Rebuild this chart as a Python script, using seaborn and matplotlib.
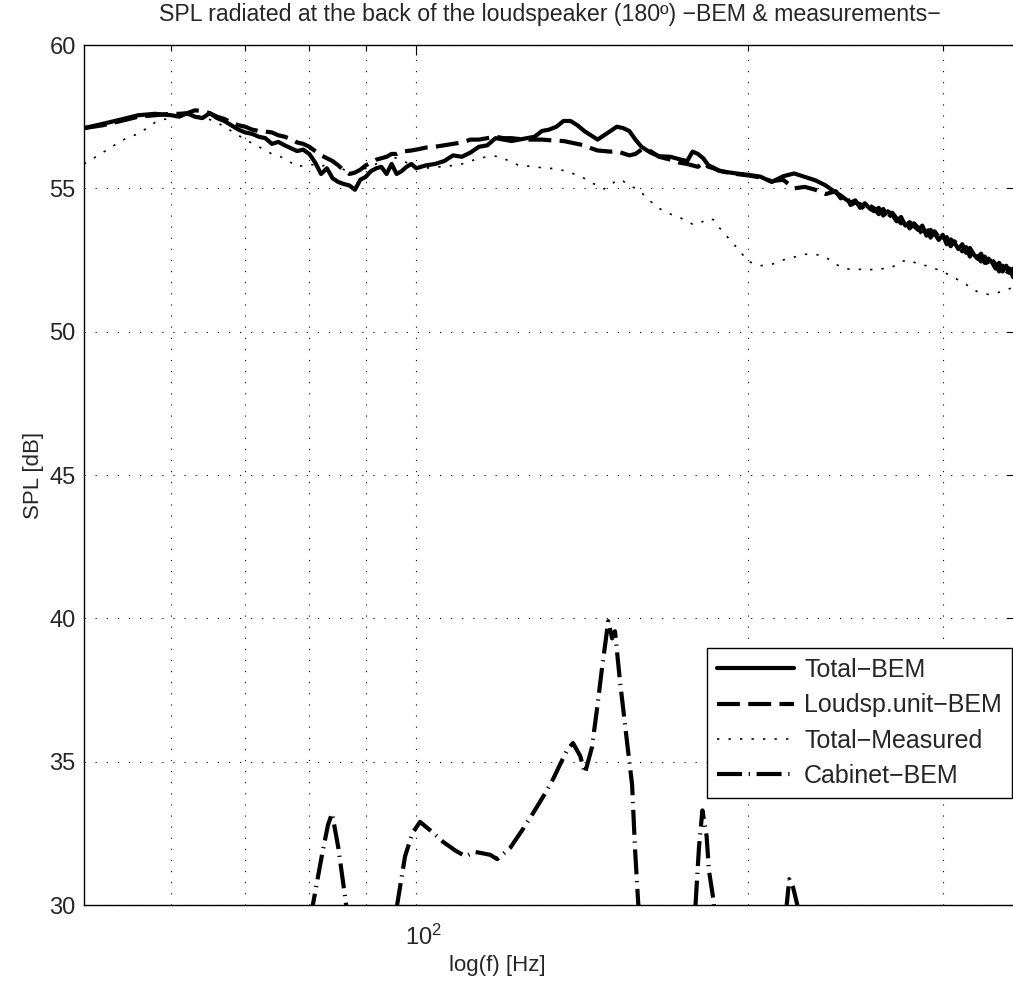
import matplotlib
matplotlib.use("Agg")
import matplotlib.pyplot as plt
import seaborn as sns
from matplotlib.ticker import FixedLocator, FixedFormatter, NullFormatter
from matplotlib.transforms import ScaledTranslation

# =========================================
# Data (f in Hz, SPL in dB)
# =========================================
freq_bem = [
    50, 52, 54, 56, 58, 60, 61, 62, 63, 64,
    65, 66, 67, 68, 69, 70, 71, 72, 73, 74,
    75, 76, 77, 78, 79, 80, 81, 82, 83, 84,
    85, 86, 87, 88, 89, 90, 91, 92, 93, 94,
    95, 96, 97, 98, 99, 100, 102, 104, 106, 108,
    110, 112, 114, 116, 118, 120, 122, 124, 126, 128,
    130, 132, 134, 136, 138, 140, 142, 144, 146, 148,
    150, 152, 154, 156, 158, 160, 163, 166, 170, 173,
    176, 178, 180, 182, 184, 186, 188, 190, 195, 200,
    205, 210, 215, 220, 225, 230, 235, 240, 242.5, 245,
    247.5, 250, 252.5, 255, 257.5, 260, 262.5, 265, 267.5, 270,
    272.5, 275, 277.5, 280, 282.5, 285, 287.5, 290, 292.5, 295,
    297.5, 300, 302.5, 305, 307.5, 310, 312.5, 315, 317.5, 320,
    322.5, 325, 327.5, 330, 332.5, 335, 337.5, 340, 342.5, 345,
    347.5, 350,
]

spl_total_bem = [
    57.1, 57.25, 57.4, 57.55, 57.6, 57.55, 57.5, 57.62, 57.5, 57.45,
    57.62, 57.45, 57.35, 57.2, 57.05, 56.95, 56.9, 56.8, 56.75, 56.55,
    56.62, 56.5, 56.4, 56.3, 56.35, 56.2, 55.9, 55.5, 55.7, 55.35,
    55.22, 55.15, 55.1, 54.95, 55.3, 55.4, 55.6, 55.7, 55.75, 55.5,
    55.85, 55.5, 55.6, 55.75, 55.85, 55.7, 55.8, 55.85, 55.95, 56.15,
    56.1, 56.25, 56.45, 56.5, 56.75, 56.7, 56.65, 56.7, 56.75, 56.8,
    57.0, 57.05, 57.15, 57.35, 57.35, 57.2, 57.0, 56.85, 56.7, 56.85,
    57.0, 57.15, 57.1, 57.0, 56.7, 56.45, 56.25, 56.12, 56.1, 56.02,
    55.95, 56.28, 56.2, 56.05, 55.8, 55.72, 55.62, 55.58, 55.52, 55.47,
    55.41, 55.22, 55.42, 55.52, 55.4, 55.28, 55.1, 54.85, 54.75, 54.62,
    54.5, 54.58, 54.32, 54.48, 54.3, 54.2, 54.32, 54.05, 54.2, 54.08,
    53.85, 54.0, 53.7, 53.82, 53.68, 53.55, 53.7, 53.35, 53.55, 53.42,
    53.2, 53.38, 53.05, 53.22, 53.1, 52.88, 53.05, 52.75, 52.92, 52.7,
    52.55, 52.72, 52.4, 52.55, 52.42, 52.2, 52.4, 52.1, 52.3, 52.05,
    52.2, 51.95,
]

spl_loudsp_bem = [
    57.1, 57.2, 57.35, 57.5, 57.55, 57.6, 57.6, 57.62, 57.72, 57.7,
    57.62, 57.5, 57.42, 57.3, 57.2, 57.15, 57.05, 57.0, 56.98, 56.95,
    56.85, 56.8, 56.72, 56.6, 56.55, 56.45, 56.3, 56.15, 56.05, 55.95,
    55.8, 55.62, 55.5, 55.55, 55.65, 55.8, 55.9, 56.0, 56.05, 56.1,
    56.2, 56.2, 56.28, 56.3, 56.32, 56.35, 56.42, 56.45, 56.5, 56.55,
    56.6, 56.7, 56.7, 56.75, 56.8, 56.75, 56.75, 56.72, 56.7, 56.7,
    56.7, 56.68, 56.66, 56.65, 56.6, 56.55, 56.5, 56.4, 56.32, 56.3,
    56.28, 56.3, 56.22, 56.15, 56.2, 56.35, 56.3, 56.1, 56.0, 55.9,
    55.85, 55.8, 55.75, 55.9, 55.75, 55.7, 55.62, 55.58, 55.5, 55.45,
    55.38, 55.25, 55.3, 55.0, 55.05, 54.95, 54.8, 54.9, 54.65, 54.78,
    54.42, 54.5, 54.45, 54.25, 54.4, 54.3, 54.1, 54.28, 53.95, 54.15,
    53.95, 53.78, 53.9, 53.6, 53.78, 53.62, 53.4, 53.6, 53.28, 53.5,
    53.3, 53.15, 53.3, 52.98, 53.15, 53.0, 52.8, 52.95, 52.62, 52.85,
    52.6, 52.45, 52.62, 52.3, 52.5, 52.35, 52.1, 52.3, 51.98, 52.2,
    51.9, 52.1,
]

freq_meas = [
    50, 51, 52, 53, 54, 55, 56, 57, 58, 59,
    60, 62, 64, 66, 68, 70, 72, 74, 76, 77,
    78, 79, 80, 81, 82, 83, 84, 85, 86, 87,
    88, 89, 90, 92, 94, 96, 98, 100, 102, 104,
    106, 108, 110, 112, 114, 116, 118, 120, 122, 124,
    126, 128, 130, 132, 134, 136, 138, 140, 142, 144,
    146, 148, 150, 152, 154, 156, 158, 160, 163, 166,
    170, 173, 176, 178, 180, 182, 184, 186, 188, 190,
    195, 200, 205, 210, 215, 220, 225, 230, 235, 240,
    245, 250, 255, 260, 265, 270, 275, 280, 285, 290,
    295, 300, 305, 310, 315, 320, 325, 330, 335, 340,
    345, 350,
]

spl_meas = [
    55.85, 56.05, 56.25, 56.45, 56.65, 56.8, 56.9, 57.1, 57.3, 57.4,
    57.45, 57.55, 57.5, 57.3, 57.0, 56.7, 56.45, 56.2, 56.05, 55.9,
    55.75, 55.8, 55.85, 55.8, 55.75, 55.85, 55.9, 55.75, 55.65, 55.6,
    55.55, 55.6, 55.7, 55.85, 56.15, 56.05, 55.9, 55.75, 55.7, 55.75,
    55.75, 55.8, 55.85, 55.95, 56.05, 56.1, 56.12, 56.05, 55.9, 55.8,
    55.78, 55.75, 55.72, 55.7, 55.68, 55.62, 55.55, 55.45, 55.35, 55.2,
    55.1, 54.98, 55.1, 55.3, 55.25, 55.1, 55.0, 54.85, 54.55, 54.3,
    54.1, 54.0, 53.85, 53.75, 53.75, 53.85, 53.95, 53.9, 53.65, 53.45,
    52.95, 52.45, 52.3, 52.35, 52.5, 52.6, 52.7, 52.7, 52.6, 52.35,
    52.2, 52.15, 52.2, 52.15, 52.2, 52.25, 52.45, 52.5, 52.35, 52.3,
    52.2, 52.1, 51.95, 51.8, 51.65, 51.45, 51.35, 51.3, 51.35, 51.4,
    51.5, 51.6,
]

freq_cab = [
    50, 79, 80.6, 82.2, 83.2, 83.9, 85.0, 86.2, 87.1, 90.8,
    95.1, 96.1, 97.7, 99.2, 100.8, 103.0, 105.8, 108.5, 110.8, 113.1,
    115.0, 116.7, 118.4, 121.7, 124.7, 127.6, 130.9, 133.1, 135.0, 137.0,
    138.7, 140.8, 142.2, 144.3, 145.9, 147.4, 149.3, 150.5, 151.4, 153.0,
    155.3, 156.9, 157.9, 158.9, 160.2, 170, 176.7, 179.1, 180.4, 181.7,
    183.3, 184.2, 185.9, 186.9, 200.7, 216, 217.8, 219.6, 221.5, 222.7,
    247, 350,
]

spl_cab = [
    25.0, 27.5, 30.0, 31.8, 32.8, 33.2, 32.0, 30.3, 29.0, 27.0,
    29.0, 30.0, 31.7, 32.5, 32.9, 32.6, 32.2, 31.9, 31.7, 31.85,
    31.8, 31.75, 31.6, 32.0, 32.6, 33.2, 33.9, 34.4, 34.9, 35.4,
    35.65, 35.2, 34.6, 35.5, 36.9, 38.3, 39.9, 39.3, 39.55, 37.8,
    35.65, 34.2, 31.9, 30.1, 28.5, 26.0, 28.8, 30.0, 32.0, 33.3,
    32.4, 31.2, 30.2, 29.0, 27.0, 29.5, 30.9, 30.6, 30.0, 29.4,
    27.0, 26.5,
]

labels = ["Total\u2212BEM", "Loudsp.unit\u2212BEM", "Total\u2212Measured", "Cabinet\u2212BEM"]
title = "SPL radiated at the back of the loudspeaker (180\u00ba) \u2212BEM & measurements\u2212"
y_ticks = [30, 35, 40, 45, 50, 55, 60]

# =========================================
# Style
# =========================================
sns.set_style("white")
plt.rcParams['font.family'] = ['Liberation Sans', 'DejaVu Sans']
plt.rcParams['mathtext.fontset'] = 'custom'
plt.rcParams['mathtext.rm'] = 'Liberation Sans'
plt.rcParams['axes.edgecolor'] = 'black'
plt.rcParams['axes.linewidth'] = 1.0

fig = plt.figure(figsize=(10.13, 9.82), dpi=100)
ax = fig.add_axes([84 / 1013, 77 / 982, 932.6 / 1013, 860 / 982])

sns.lineplot(x=freq_bem, y=spl_total_bem, ax=ax, color='black', linewidth=3,
             label=labels[0], sort=False, solid_joinstyle='round')
sns.lineplot(x=freq_bem, y=spl_loudsp_bem, ax=ax, color='black', linewidth=3,
             linestyle=(0, (5.5, 2)), label=labels[1], sort=False)
sns.lineplot(x=freq_meas, y=spl_meas, ax=ax, color='black', linewidth=1.2,
             linestyle=(0, (1.4, 5.5)), label=labels[2], sort=False)
sns.lineplot(x=freq_cab, y=spl_cab, ax=ax, color='black', linewidth=3,
             linestyle=(0, (6, 1.6, 0.3, 1.6)), label=labels[3], sort=False)

ax.set_xscale('log')
ax.set_xlim(50, 350)
ax.set_ylim(30, 60)
ax.set_yticks(y_ticks)
ax.xaxis.set_major_locator(FixedLocator([100]))
ax.xaxis.set_major_formatter(FixedFormatter([r'$\mathregular{10^{2}}$']))
ax.xaxis.set_minor_locator(FixedLocator([60, 70, 80, 90, 200, 300]))
ax.xaxis.set_minor_formatter(NullFormatter())

grid_kw = dict(color='black', linewidth=0.8, linestyle=(0, (1, 9)))
ax.grid(True, which='both', axis='x', **grid_kw)
ax.grid(True, which='major', axis='y', **grid_kw)

ax.tick_params(which='both', direction='in', top=True, right=True,
               width=0.8, color='black', labelsize=17)
ax.tick_params(which='major', length=7)
ax.tick_params(which='minor', length=4.5)
ax.tick_params(axis='x', pad=14)
ax.tick_params(axis='y', pad=6)

# nudge the 10^2 label a little to the right, as in the original
for tick in ax.xaxis.get_major_ticks():
    tick.label1.set_transform(tick.label1.get_transform()
                              + ScaledTranslation(0.07, 0, fig.dpi_scale_trans))

ax.set_title(title, fontsize=16.7, pad=17)
ax.set_xlabel("log(f) [Hz]", fontsize=16)
ax.xaxis.set_label_coords(0.443, -0.058)
ax.set_ylabel("SPL [dB]", fontsize=16)

leg = ax.legend(loc='upper right', bbox_to_anchor=(0.995, 0.2988), fontsize=18,
                frameon=True, fancybox=False, edgecolor='black', framealpha=1,
                borderpad=0.4, labelspacing=0.45, handlelength=3.1,
                handletextpad=0.4, borderaxespad=0)
leg.get_frame().set_linewidth(1.0)

fig.savefig("out.png", dpi=100)
plt.close(fig)
